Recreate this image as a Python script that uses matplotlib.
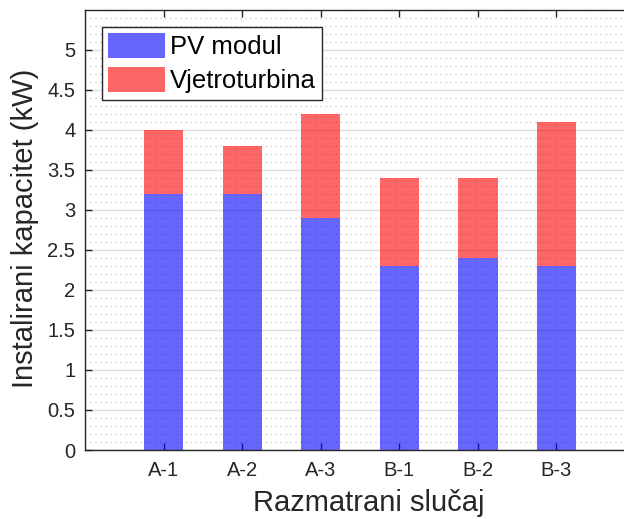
import matplotlib.pyplot as plt
from matplotlib.ticker import MultipleLocator
import numpy as np

plt.rcParams['font.family'] = ['Liberation Sans', 'DejaVu Sans']

cases = ['A-1', 'A-2', 'A-3', 'B-1', 'B-2', 'B-3']
pv = [3.2, 3.2, 2.9, 2.3, 2.4, 2.3]
wind = [0.8, 0.6, 1.3, 1.1, 1.0, 1.8]
yticks = [0, 0.5, 1, 1.5, 2, 2.5, 3, 3.5, 4, 4.5, 5]

x = np.arange(1, len(cases) + 1)

fig = plt.figure(figsize=(6.24, 5.19), dpi=100)
ax = fig.add_axes([85 / 624, (519 - 450) / 519, 550 / 624, 440.5 / 519])

ax.bar(x, pv, 0.5, color='blue', alpha=0.6, linewidth=0, label='PV modul')
ax.bar(x, wind, 0.5, bottom=pv, color='red', alpha=0.6, linewidth=0, label='Vjetroturbina')

ax.set_xlim(0, 7)
ax.set_ylim(0, 5.5)
ax.set_xticks(x)
ax.set_xticklabels(cases)
ax.set_yticks(yticks)
ax.set_yticklabels(['%g' % v for v in yticks])
ax.yaxis.set_minor_locator(MultipleLocator(0.1))

ax.set_axisbelow(True)
ax.grid(axis='y', which='major', color='#dedede', linewidth=1.0)
ax.grid(axis='y', which='minor', color='#c4c4c4', linestyle=(0, (1, 3)), linewidth=0.9)

ax.tick_params(which='major', direction='in', length=5, width=1, colors='#262626',
               labelsize=14.5, top=True, right=True)
ax.tick_params(axis='y', pad=7)
ax.tick_params(axis='x', pad=8)
ax.tick_params(which='minor', length=0)
for s in ax.spines.values():
    s.set_color('#262626')
    s.set_linewidth(1.0)

ax.set_xlabel('Razmatrani slučaj', fontsize=21, color='#262626')
ax.set_ylabel('Instalirani kapacitet (kW)', fontsize=21, color='#262626')
ax.xaxis.label.set_va('center')
ax.yaxis.label.set_va('center')
ax.xaxis.set_label_coords(0.516, -0.12)
ax.yaxis.set_label_coords(-0.109, 0.503)

leg = ax.legend(loc='upper left', bbox_to_anchor=(17 / 550, 1 - 17.5 / 440.5), fontsize=18.5,
                frameon=True, fancybox=False, framealpha=1, edgecolor='#262626',
                handlelength=2.2, handleheight=1.1, borderpad=0.25, labelspacing=0.3,
                handletextpad=0.2, borderaxespad=0)
leg.get_frame().set_linewidth(1.0)

fig.savefig('out.png', dpi=100)
